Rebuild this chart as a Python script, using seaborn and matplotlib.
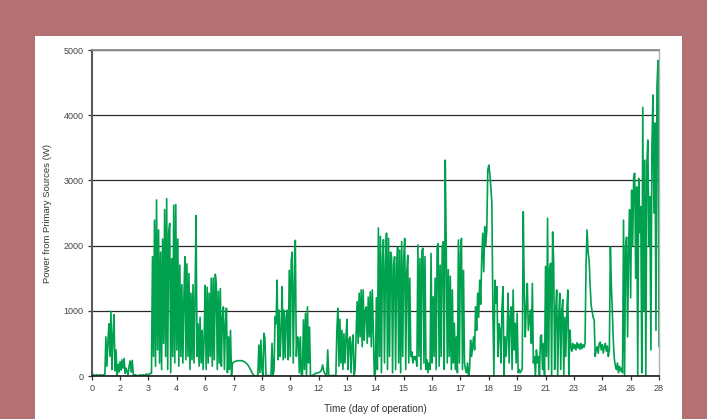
import numpy as np
import pandas as pd
import seaborn as sns
import matplotlib.pyplot as plt
from matplotlib.patches import Rectangle

# power from primary sources (W), 20 samples per day
week1 = [
    40, 30, 20, 10, 10, 20, 10, 10, 20, 10, 10, 20, 10, 20, 600, 150, 520, 800, 300, 990,          # day 0
    100, 620, 940, 80, 400, 0, 180, 60, 220, 90, 250, 120, 270, 40, 120, 60, 20, 160, 230, 60,     # day 1
    240, 30, 10, 20, 10, 10, 0, 10, 20, 10, 10, 20, 10, 20, 30, 20, 20, 30, 40, 40,                # day 2
    1830, 300, 2390, 150, 2700, 400, 2240, 200, 1900, 100, 2100, 500, 2550, 300, 2720, 100, 2200, 2340, 50, 1800,
    300, 2620, 200, 2630, 400, 2100, 150, 1700, 300, 1400, 200, 1200, 1830, 250, 1720, 300, 1570, 100, 1270, 250,
    1400, 200, 1200, 2460, 300, 800, 150, 900, 200, 700, 100, 600, 1390, 100, 1360, 200, 1270, 300, 1500, 150,
    1500, 250, 1560, 1420, 100, 1300, 200, 1340, 150, 900, 1060, 100, 800, 1040, 50, 600, 100, 700, 0, 200,
]
week2 = [
    210, 220, 225, 230, 235, 235, 235, 235, 235, 230, 225, 215, 205, 190, 170, 150, 120, 90, 60, 30,  # day 7
    10, 0, 0, 0, 10, 475, 50, 550, 100, 0, 655, 580, 20, 0, 0, 10, 0, 10, 500, 0,
    100, 910, 800, 1470, 250, 1010, 300, 700, 1370, 250, 1010, 280, 900, 1010, 250, 1620, 300, 1780, 1900, 200,
    1370, 2080, 300, 600, 580, 50, 600, 0, 0, 860, 100, 960, 0, 1060, 200, 750, 0, 0, 10, 20,
    30, 40, 40, 50, 50, 60, 70, 100, 170, 80, 40, 20, 10, 400, 10, 0, 0, 10, 0, 10,
    0, 0, 700, 1040, 150, 870, 200, 700, 100, 650, 200, 600, 870, 100, 550, 600, 50, 500, 630, 0,
    100, 600, 1140, 500, 1270, 600, 1320, 450, 1320, 550, 1000, 1060, 500, 1210, 600, 1290, 450, 1320, 700, 0,
]
week3 = [
    50, 1200, 100, 2270, 300, 2140, 50, 1800, 2090, 200, 1700, 2190, 100, 2110, 300, 1900, 1830, 50, 1700, 1830,  # day 14
    100, 1700, 1980, 200, 1930, 50, 2060, 300, 1800, 2110, 100, 1600, 1850, 200, 1500, 300, 370, 200, 300, 250,
    300, 150, 2010, 300, 1800, 100, 1930, 1960, 200, 1830, 100, 250, 50, 200, 100, 1880, 200, 1215, 300, 1500,
    100, 1980, 2030, 150, 1700, 300, 1980, 2060, 100, 3310, 1930, 200, 1630, 300, 1530, 100, 1320, 200, 810, 100,
    600, 50, 2085, 200, 1900, 2110, 100, 1620, 200, 100, 50, 200, 0, 100, 550, 300, 450, 600, 400, 1060,
    700, 1270, 900, 1470, 1100, 1800, 2190, 1600, 2290, 2000, 2240, 3160, 3235, 3100, 2900, 2650, 1060, 0, 1470, 1120,
    1370, 300, 800, 705, 200, 1060, 1370, 0, 600, 300, 600, 1270, 200, 900, 1060, 100, 1320, 400, 810, 200,
]
week4 = [
    960, 50, 100, 50, 80, 100, 2520, 1320, 600, 1060, 1420, 700, 860, 1010, 500, 1420, 200, 300, 0, 400,  # day 21
    200, 300, 0, 600, 630, 100, 500, 0, 1680, 300, 2420, 100, 1630, 1730, 0, 2210, 1780, 100, 1000, 1320,
    0, 900, 1270, 100, 1000, 1170, 0, 900, 300, 1000, 1320, 0, 705, 450, 380, 500, 420, 480, 400, 510,
    430, 490, 410, 500, 420, 480, 440, 500, 1730, 2240, 1900, 1780, 1400, 1090, 1000, 900, 860, 300, 400, 450,
    350, 500, 520, 400, 480, 350, 450, 500, 380, 460, 300, 400, 1980, 1370, 960, 500, 250, 150, 100, 200,
    50, 150, 80, 120, 50, 2390, 0, 1980, 2130, 600, 2000, 2550, 1200, 2850, 2000, 3050, 3110, 1500, 2900, 0,
    3030, 2200, 2600, 50, 4120, 1000, 3310, 0, 3260, 3620, 2000, 2750, 400, 3500, 4310, 2500, 3880, 700, 4435, 4840,
    450,  # day 28
]
samples_per_day = 20

x_tick_labels = ["0", "2", "3", "4", "6", "7", "8", "9", "12", "13", "14",
                 "15", "16", "17", "18", "19", "21", "23", "24", "26", "28"]
y_ticks = [0, 1000, 2000, 3000, 4000, 5000]

power = week1 + week2 + week3 + week4
df = pd.DataFrame({"day": np.arange(len(power)) / samples_per_day, "power": power})

sns.set_style("white")
plt.rcParams["font.family"] = ["Liberation Sans", "DejaVu Sans"]

fig = plt.figure(figsize=(7.07, 4.19), dpi=100, facecolor="#b47174")
# white panel behind the chart
fig.patches.append(Rectangle((35 / 707, 0), 647 / 707, 383 / 419, transform=fig.transFigure,
                             facecolor="white", edgecolor="none", zorder=-10))
ax = fig.add_axes([91.7 / 707, 43 / 419, 567.3 / 707, 326 / 419])
ax.set_facecolor("white")

sns.lineplot(data=df, x="day", y="power", ax=ax, color="#00a14e", linewidth=1.2,
             estimator=None, sort=False)

ax.set_xlim(0, 28)
ax.set_ylim(0, 5000)
ax.set_xticks(np.linspace(0, 28, len(x_tick_labels)))
ax.set_xticklabels(x_tick_labels)
ax.set_yticks(y_ticks)

ax.set_axisbelow(True)
ax.yaxis.grid(True, color="#2a2a2a", linewidth=0.9)
ax.xaxis.grid(False)

ax.spines["top"].set_color("#8c8c8c")
ax.spines["top"].set_linewidth(1.3)
ax.spines["right"].set_color("#b0b0b0")
ax.spines["right"].set_linewidth(1.0)
ax.spines["left"].set_color("#5a5a5a")
ax.spines["left"].set_linewidth(1.5)
ax.spines["bottom"].set_color("#1a1a1a")
ax.spines["bottom"].set_linewidth(1.2)

ax.tick_params(axis="both", direction="out", length=3, width=0.9, color="#333333",
               labelsize=6.5, labelcolor="#444444", pad=3)
ax.tick_params(axis="y", left=True)
ax.tick_params(axis="x", bottom=True)

ax.set_xlabel("Time (day of operation)", fontsize=7.2, color="#333333", labelpad=8)
ax.set_ylabel("Power from Primary Sources (W)", fontsize=6.8, color="#333333", labelpad=8)

plt.savefig("out.png", dpi=100, facecolor=fig.get_facecolor())
